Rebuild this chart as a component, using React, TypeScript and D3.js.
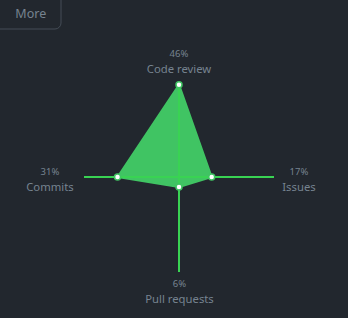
import React from "react";
import * as d3 from "d3";

const categories = ["Code review", "Issues", "Pull requests", "Commits"];
const percentages = [46, 17, 6, 31];
const angles = [-90, 0, 90, 180];

const W = 348;
const H = 318;
const cx = 179;
const cy = 177;
const axisLen = 95;
const bg = "#22272e";
const green = "#40c463";
const axisGreen = "#39d353";
const textColor = "#768390";
const font = '-apple-system, BlinkMacSystemFont, "Segoe UI", "Noto Sans", Helvetica, Arial, sans-serif';

export default function App() {
  React.useEffect(() => {
    document.body.style.margin = "0";
  }, []);
  const r = d3.scaleLinear().domain([1.1, 46]).range([0, 92.3]);
  const pts = percentages.map((v, i) => {
    const a = (angles[i] * Math.PI) / 180;
    return [cx + Math.cos(a) * r(v), cy + Math.sin(a) * r(v)] as [number, number];
  });
  const poly = d3.line().curve(d3.curveLinearClosed)(pts) || "";
  const labelPos = [
    { x: 179, y1: 56.5, y2: 73 },
    { x: 299, y1: 175, y2: 191 },
    { x: 179.5, y1: 287, y2: 303 },
    { x: 50, y1: 175, y2: 191 },
  ];
  return (
    <svg width={W} height={H} style={{ display: "block" }} fontFamily={font}>
      <rect width={W} height={H} fill={bg} />
      <rect x={-10} y={-10} width={71} height={39} rx={6} fill={bg} stroke="#444c56" strokeWidth={1} />
      <text x={30.8} y={17.5} textAnchor="middle" fontSize={12.5} fill={textColor}>More</text>
      <path d={poly} fill={green} stroke={green} strokeWidth={2} strokeLinejoin="round" />
      {angles.map((deg, i) => {
        const a = (deg * Math.PI) / 180;
        return (
          <line key={i} x1={cx} y1={cy} x2={cx + Math.cos(a) * axisLen} y2={cy + Math.sin(a) * axisLen}
            stroke={axisGreen} strokeWidth={2} />
        );
      })}
      {pts.map((p, i) => (
        <circle key={i} cx={p[0]} cy={p[1]} r={3} fill="#ffffff" stroke={green} strokeWidth={1.5} />
      ))}
      {categories.map((c, i) => (
        <g key={c}>
          <text x={labelPos[i].x} y={labelPos[i].y1} textAnchor="middle" fontSize={9.5} fill={textColor}>{percentages[i]}%</text>
          <text x={labelPos[i].x} y={labelPos[i].y2} textAnchor="middle" fontSize={11.3} fill={textColor}>{c}</text>
        </g>
      ))}
    </svg>
  );
}
